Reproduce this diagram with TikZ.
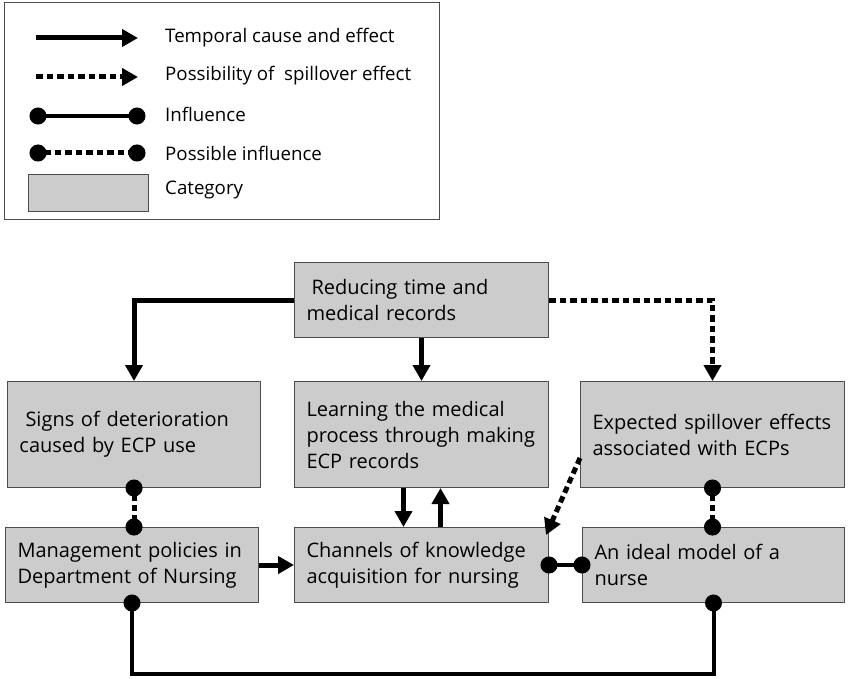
\documentclass[tikz,border=0pt]{standalone}
\usepackage{fontspec}
\setmainfont{Open Sans}
\usetikzlibrary{arrows.meta}
\begin{document}
\begin{tikzpicture}[x=1pt, y=-1pt,
    every node/.style={font=\fontsize{20}{26}\selectfont},
    keytext/.style={anchor=west, inner xsep=2pt, font=\fontsize{18.7}{26}\selectfont},
    category/.style={draw=black!70, fill=black!20, line width=1pt, anchor=north west,
      align=left, inner xsep=12pt, inner ysep=0pt},
    cause/.style={line width=5pt, -{Triangle[length=16pt,width=17pt]}},
    spill/.style={cause, dash pattern=on 6.5pt off 4pt},
    influence/.style={line width=4pt, {Circle[length=17pt]}-{Circle[length=17pt]},
      shorten <=-8.5pt, shorten >=-8.5pt},
    possible/.style={influence, line width=5pt, dash pattern=on 6.5pt off 4pt}]
  \useasboundingbox (0,0) rectangle (848,679);

  % legend
  \draw[black!70, line width=1pt] (4,3) rectangle (439,219);
  \coordinate (c1) at (36,38);  \coordinate (c2) at (138,38);
  \coordinate (s1) at (36,77);  \coordinate (s2) at (138,77);
  \coordinate (i1) at (38,116); \coordinate (i2) at (137,116);
  \coordinate (p1) at (38,153); \coordinate (p2) at (137,153);
  \draw[cause] (c1) -- (c2);
  \draw[spill] (s1) -- (s2);
  \draw[influence, shorten <=0pt, shorten >=0pt] ([xshift=-8.5pt]i1) -- ([xshift=8.5pt]i2);
  \draw[possible, shorten <=0pt, shorten >=0pt] ([xshift=-8.5pt]p1) -- ([xshift=8.5pt]p2);
  \node [category, text width=96pt, minimum height=37pt] (key) at (28,174) {};
  \node [keytext] (tcause) at (163,38) {Temporal cause and effect};
  \node [keytext] (tspill) at (163,76) {Possibility of\ \ spillover effect};
  \node [keytext] (tinfl) at (163,114) {Influence};
  \node [keytext] (tposs) at (163,153) {Possible influence};
  \node [keytext] (tcat) at (163,190) {Category};

  % categories
  \node [category, text width=230pt, minimum height=75pt] (reduce) at (294,262)
    {\hspace{5pt}Reducing time and\\medical records};
  \node [category, text width=229pt, minimum height=106pt] (signs) at (7,381)
    {\hspace{6pt}Signs of deterioration\\caused by ECP use};
  \node [category, text width=230pt, minimum height=106pt] (learn) at (294,381)
    {Learning the medical\\process through making\\ECP records};
  \node [category, text width=240pt, minimum height=106pt] (expect) at (580,381)
    {Expected spillover effects\\associated with ECPs};
  \node [category, text width=229pt, minimum height=75pt] (manage) at (5,527)
    {Management policies in\\Department of Nursing};
  \node [category, text width=230pt, minimum height=75pt] (channel) at (294,527)
    {Channels of knowledge\\acquisition for nursing};
  \node [category, text width=238pt, minimum height=75pt] (ideal) at (582,527)
    {An ideal model of a\\nurse};

  % connectors
  \draw[cause] (reduce.west) -| (signs.north);
  \draw[cause] (reduce.south) -- (learn.north);
  \draw[spill] (reduce.east) -| (expect.north);
  \draw[cause] ([xshift=-18pt]learn.south) -- ([xshift=-18pt]channel.north);
  \draw[cause] ([xshift=19pt]channel.north) -- ([xshift=19pt]learn.south);
  \draw[possible] (signs.south) -- (signs.south |- manage.north);
  \draw[cause] (manage.east) -- (channel.west);
  \draw[possible] (expect.south) -- (expect.south |- ideal.north);
  \draw[spill] ([yshift=30pt]expect.south west) -- ([shift={(-3pt,-8pt)}]channel.north east);
  \draw[influence] (channel.east) -- (ideal.west);
  \draw[influence] (manage.south) -- ++(0,71) -| (ideal.south);
\end{tikzpicture}
\end{document}
